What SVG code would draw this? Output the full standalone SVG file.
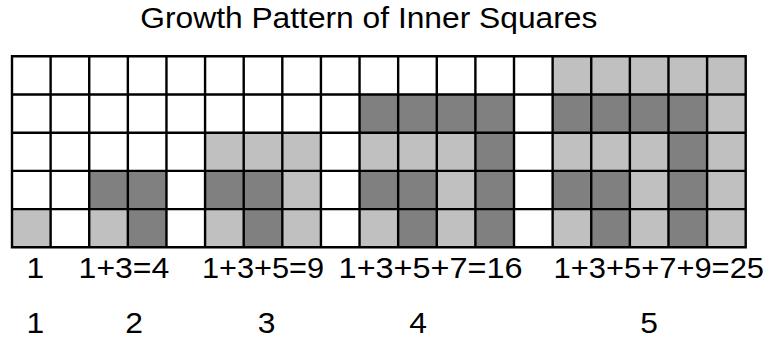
<svg xmlns="http://www.w3.org/2000/svg" width="770" height="337" viewBox="0 0 770 337">
<style>
.L{fill:#c0c0c0}
.D{fill:#808080}
.grid{fill:none;stroke:#000;stroke-width:2.4;stroke-linecap:square}
text{font-family:"Liberation Sans",Arial,sans-serif;fill:#000;font-size:29px}
</style>
<rect x="0" y="0" width="770" height="337" fill="#fff"/>
<g id="title"><text x="140.3" y="28.3" textLength="457" lengthAdjust="spacingAndGlyphs">Growth Pattern of Inner Squares</text></g>
<g id="square1">
<rect class="L" x="12" y="209.1" width="38.62" height="38.2"/>
</g>
<g id="square2">
<rect class="D" x="89.23" y="170.9" width="38.62" height="38.2"/>
<rect class="D" x="127.85" y="170.9" width="38.62" height="38.2"/>
<rect class="L" x="89.23" y="209.1" width="38.62" height="38.2"/>
<rect class="D" x="127.85" y="209.1" width="38.62" height="38.2"/>
</g>
<g id="square3">
<rect class="L" x="205.08" y="132.7" width="38.62" height="38.2"/>
<rect class="L" x="243.7" y="132.7" width="38.62" height="38.2"/>
<rect class="L" x="282.31" y="132.7" width="38.62" height="38.2"/>
<rect class="D" x="205.08" y="170.9" width="38.62" height="38.2"/>
<rect class="D" x="243.7" y="170.9" width="38.62" height="38.2"/>
<rect class="L" x="282.31" y="170.9" width="38.62" height="38.2"/>
<rect class="L" x="205.08" y="209.1" width="38.62" height="38.2"/>
<rect class="D" x="243.7" y="209.1" width="38.62" height="38.2"/>
<rect class="L" x="282.31" y="209.1" width="38.62" height="38.2"/>
</g>
<g id="square4">
<rect class="D" x="359.54" y="94.5" width="38.62" height="38.2"/>
<rect class="D" x="398.16" y="94.5" width="38.62" height="38.2"/>
<rect class="D" x="436.78" y="94.5" width="38.62" height="38.2"/>
<rect class="D" x="475.39" y="94.5" width="38.62" height="38.2"/>
<rect class="L" x="359.54" y="132.7" width="38.62" height="38.2"/>
<rect class="L" x="398.16" y="132.7" width="38.62" height="38.2"/>
<rect class="L" x="436.78" y="132.7" width="38.62" height="38.2"/>
<rect class="D" x="475.39" y="132.7" width="38.62" height="38.2"/>
<rect class="D" x="359.54" y="170.9" width="38.62" height="38.2"/>
<rect class="D" x="398.16" y="170.9" width="38.62" height="38.2"/>
<rect class="L" x="436.78" y="170.9" width="38.62" height="38.2"/>
<rect class="D" x="475.39" y="170.9" width="38.62" height="38.2"/>
<rect class="L" x="359.54" y="209.1" width="38.62" height="38.2"/>
<rect class="D" x="398.16" y="209.1" width="38.62" height="38.2"/>
<rect class="L" x="436.78" y="209.1" width="38.62" height="38.2"/>
<rect class="D" x="475.39" y="209.1" width="38.62" height="38.2"/>
</g>
<g id="square5">
<rect class="L" x="552.62" y="56.3" width="38.62" height="38.2"/>
<rect class="L" x="591.24" y="56.3" width="38.62" height="38.2"/>
<rect class="L" x="629.86" y="56.3" width="38.62" height="38.2"/>
<rect class="L" x="668.47" y="56.3" width="38.62" height="38.2"/>
<rect class="L" x="707.09" y="56.3" width="38.62" height="38.2"/>
<rect class="D" x="552.62" y="94.5" width="38.62" height="38.2"/>
<rect class="D" x="591.24" y="94.5" width="38.62" height="38.2"/>
<rect class="D" x="629.86" y="94.5" width="38.62" height="38.2"/>
<rect class="D" x="668.47" y="94.5" width="38.62" height="38.2"/>
<rect class="L" x="707.09" y="94.5" width="38.62" height="38.2"/>
<rect class="L" x="552.62" y="132.7" width="38.62" height="38.2"/>
<rect class="L" x="591.24" y="132.7" width="38.62" height="38.2"/>
<rect class="L" x="629.86" y="132.7" width="38.62" height="38.2"/>
<rect class="D" x="668.47" y="132.7" width="38.62" height="38.2"/>
<rect class="L" x="707.09" y="132.7" width="38.62" height="38.2"/>
<rect class="D" x="552.62" y="170.9" width="38.62" height="38.2"/>
<rect class="D" x="591.24" y="170.9" width="38.62" height="38.2"/>
<rect class="L" x="629.86" y="170.9" width="38.62" height="38.2"/>
<rect class="D" x="668.47" y="170.9" width="38.62" height="38.2"/>
<rect class="L" x="707.09" y="170.9" width="38.62" height="38.2"/>
<rect class="L" x="552.62" y="209.1" width="38.62" height="38.2"/>
<rect class="D" x="591.24" y="209.1" width="38.62" height="38.2"/>
<rect class="L" x="629.86" y="209.1" width="38.62" height="38.2"/>
<rect class="D" x="668.47" y="209.1" width="38.62" height="38.2"/>
<rect class="L" x="707.09" y="209.1" width="38.62" height="38.2"/>
</g>
<g id="grid">
<path class="grid" d="M12 56.3V247.3M50.62 56.3V247.3M89.23 56.3V247.3M127.85 56.3V247.3M166.46 56.3V247.3M205.08 56.3V247.3M243.7 56.3V247.3M282.31 56.3V247.3M320.93 56.3V247.3M359.54 56.3V247.3M398.16 56.3V247.3M436.78 56.3V247.3M475.39 56.3V247.3M514.01 56.3V247.3M552.62 56.3V247.3M591.24 56.3V247.3M629.86 56.3V247.3M668.47 56.3V247.3M707.09 56.3V247.3M745.7 56.3V247.3M12 56.3H745.7M12 94.5H745.7M12 132.7H745.7M12 170.9H745.7M12 209.1H745.7M12 247.3H745.7"/>
</g>
<g id="sums">
<text x="26.6" y="278.3" textLength="17.7" lengthAdjust="spacingAndGlyphs">1</text>
<text x="78.6" y="278.3" textLength="90.7" lengthAdjust="spacingAndGlyphs">1+3=4</text>
<text x="201.9" y="278.3" textLength="122.3" lengthAdjust="spacingAndGlyphs">1+3+5=9</text>
<text x="338.6" y="278.3" textLength="184" lengthAdjust="spacingAndGlyphs">1+3+5+7=16</text>
<text x="553.6" y="278.3" textLength="210.4" lengthAdjust="spacingAndGlyphs">1+3+5+7+9=25</text>
</g>
<g id="sides">
<text x="26.6" y="333.3" textLength="17.7" lengthAdjust="spacingAndGlyphs">1</text>
<text x="134.2" y="333.3" text-anchor="middle" textLength="17.7" lengthAdjust="spacingAndGlyphs">2</text>
<text x="266.7" y="333.3" text-anchor="middle" textLength="17.7" lengthAdjust="spacingAndGlyphs">3</text>
<text x="418" y="333.3" text-anchor="middle" textLength="17.7" lengthAdjust="spacingAndGlyphs">4</text>
<text x="649.2" y="333.3" text-anchor="middle" textLength="17.7" lengthAdjust="spacingAndGlyphs">5</text>
</g>
</svg>
